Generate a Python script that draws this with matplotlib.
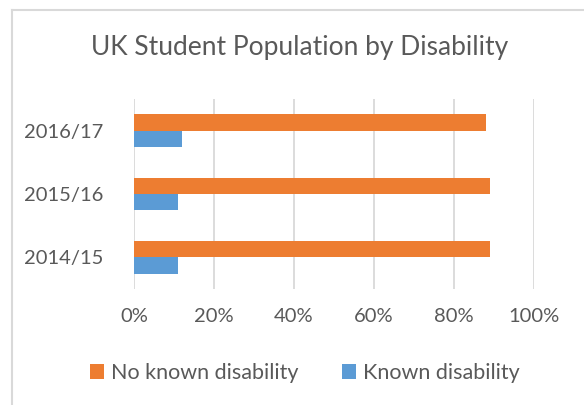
import matplotlib
matplotlib.use("Agg")
import matplotlib.pyplot as plt
from matplotlib.lines import Line2D
import numpy as np

categories = ["2014/15", "2015/16", "2016/17"]
no_known = [89, 89, 88]
known = [11, 11, 12]
series_names = ["No known disability", "Known disability"]
xticks = [0, 20, 40, 60, 80, 100]
xtick_labels = ["0%", "20%", "40%", "60%", "80%", "100%"]

plt.rcParams['font.family'] = ['Lato', 'DejaVu Sans']
orange = "#ED7D31"
blue = "#5B9BD5"
grey = "#595959"
W, H = 584, 405

fig = plt.figure(figsize=(W/100, H/100), dpi=100)
fig.patch.set_facecolor("white")
ax = fig.add_axes([134/W, 1-289/H, 400/W, 190/H])

y = np.arange(len(categories))
h = 0.26
ax.barh(y + h/2, no_known, height=h, color=orange, label=series_names[0], zorder=3)
ax.barh(y - h/2, known, height=h, color=blue, label=series_names[1], zorder=3)

ax.set_xlim(0, 100)
ax.set_ylim(-0.5, 2.5)
ax.set_xticks(xticks)
ax.set_xticklabels(xtick_labels)
ax.set_yticks(y)
ax.set_yticklabels(categories)
ax.tick_params(axis='x', length=0, labelsize=14.5, labelcolor=grey, pad=14)
ax.tick_params(axis='y', length=0, labelsize=14.5, labelcolor=grey, pad=22)
ax.grid(axis='x', color="#d9d9d9", linewidth=1.3, zorder=0)
for s in ax.spines.values():
    s.set_visible(False)

fig.text(0.5 + 8/W, 1-48/H, "UK Student Population by Disability", ha='center', va='center',
         fontsize=19, color=grey)

leg = fig.legend(loc='center', bbox_to_anchor=(305/W, 1-373/H), ncol=2, frameon=False,
                 fontsize=15.5, handlelength=0.65, handleheight=0.65, handletextpad=0.35,
                 columnspacing=2.0, labelcolor=grey)

# chart border (partially cropped)
fig.add_artist(Line2D([12/W, 12/W], [0, 1-10/H], transform=fig.transFigure,
                      color="#d9d9d9", linewidth=1.5))
fig.add_artist(Line2D([12/W, 1], [1-10/H, 1-10/H], transform=fig.transFigure,
                      color="#d9d9d9", linewidth=1.5))

fig.savefig("out.png", dpi=100, facecolor="white")
